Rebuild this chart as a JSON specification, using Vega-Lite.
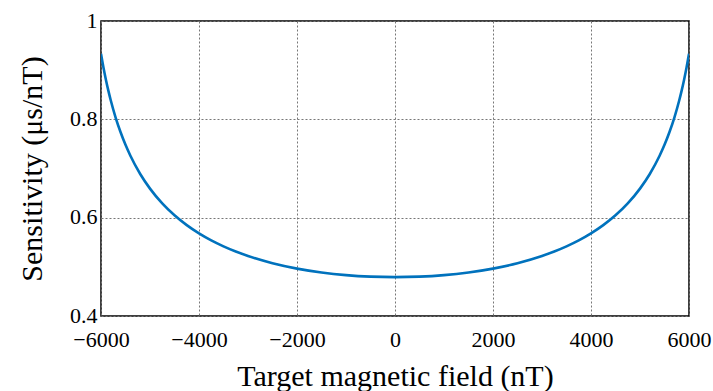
{
  "$schema": "https://vega.github.io/schema/vega-lite/v6.json",
  "autosize": "none",
  "width": 588,
  "height": 295,
  "padding": {"left": 101, "top": 21, "right": 24, "bottom": 75},
  "background": "white",
  "config": {
    "view": {"stroke": "black", "strokeWidth": 1.5},
    "font": "Liberation Serif",
    "style": {
      "guide-label": {"font": "Liberation Serif"},
      "guide-title": {"font": "Liberation Serif"}
    },
    "axis": {
      "labelFont": "Liberation Serif",
      "titleFont": "Liberation Serif",
      "labelFontSize": 22,
      "titleFontSize": 30,
      "titleFontWeight": "normal",
      "labelColor": "black",
      "titleColor": "black",
      "ticks": false,
      "domain": false,
      "gridColor": "#777777",
      "gridDash": [2, 2],
      "gridWidth": 1,
      "gridOpacity": 1
    }
  },
  "data": {
    "values": [
      {"B": -6000, "S": 0.9333},
      {"B": -5950, "S": 0.9055},
      {"B": -5900, "S": 0.8807},
      {"B": -5850, "S": 0.8584},
      {"B": -5800, "S": 0.8383},
      {"B": -5700, "S": 0.8031},
      {"B": -5600, "S": 0.7736},
      {"B": -5500, "S": 0.7481},
      {"B": -5400, "S": 0.7259},
      {"B": -5200, "S": 0.6888},
      {"B": -5000, "S": 0.6591},
      {"B": -4750, "S": 0.629},
      {"B": -4500, "S": 0.6048},
      {"B": -4250, "S": 0.5848},
      {"B": -4000, "S": 0.568},
      {"B": -3750, "S": 0.5537},
      {"B": -3500, "S": 0.5416},
      {"B": -3250, "S": 0.5311},
      {"B": -3000, "S": 0.522},
      {"B": -2500, "S": 0.5073},
      {"B": -2000, "S": 0.4964},
      {"B": -1500, "S": 0.4885},
      {"B": -1000, "S": 0.4831},
      {"B": -500, "S": 0.48},
      {"B": 0, "S": 0.479},
      {"B": 500, "S": 0.48},
      {"B": 1000, "S": 0.4831},
      {"B": 1500, "S": 0.4885},
      {"B": 2000, "S": 0.4964},
      {"B": 2500, "S": 0.5073},
      {"B": 3000, "S": 0.522},
      {"B": 3250, "S": 0.5311},
      {"B": 3500, "S": 0.5416},
      {"B": 3750, "S": 0.5537},
      {"B": 4000, "S": 0.568},
      {"B": 4250, "S": 0.5848},
      {"B": 4500, "S": 0.6048},
      {"B": 4750, "S": 0.629},
      {"B": 5000, "S": 0.6591},
      {"B": 5200, "S": 0.6888},
      {"B": 5400, "S": 0.7259},
      {"B": 5500, "S": 0.7481},
      {"B": 5600, "S": 0.7736},
      {"B": 5700, "S": 0.8031},
      {"B": 5800, "S": 0.8383},
      {"B": 5850, "S": 0.8584},
      {"B": 5900, "S": 0.8807},
      {"B": 5950, "S": 0.9055},
      {"B": 6000, "S": 0.9333}
    ]
  },
  "mark": {"type": "line", "color": "#0072BD", "strokeWidth": 2.6, "interpolate": "monotone", "clip": true},
  "encoding": {
    "x": {
      "field": "B",
      "type": "quantitative",
      "scale": {"domain": [-6000, 6000], "nice": false, "zero": false},
      "axis": {
        "title": "Target magnetic field (nT)",
        "values": [-6000, -4000, -2000, 0, 2000, 4000, 6000],
        "format": "d",
        "labelFont": "Liberation Serif",
        "titleFont": "Liberation Serif",
        "labelPadding": 13,
        "titlePadding": 11,
        "labelFlush": false
      }
    },
    "y": {
      "field": "S",
      "type": "quantitative",
      "scale": {"domain": [0.4, 1], "nice": false, "zero": false},
      "axis": {
        "title": "Sensitivity (μs/nT)",
        "values": [0.4, 0.6, 0.8, 1],
        "format": "~g",
        "labelFont": "Liberation Serif",
        "titleFont": "Liberation Serif",
        "labelPadding": 4,
        "labelOffset": -1,
        "titlePadding": 22,
        "labelFlush": false
      }
    }
  }
}
